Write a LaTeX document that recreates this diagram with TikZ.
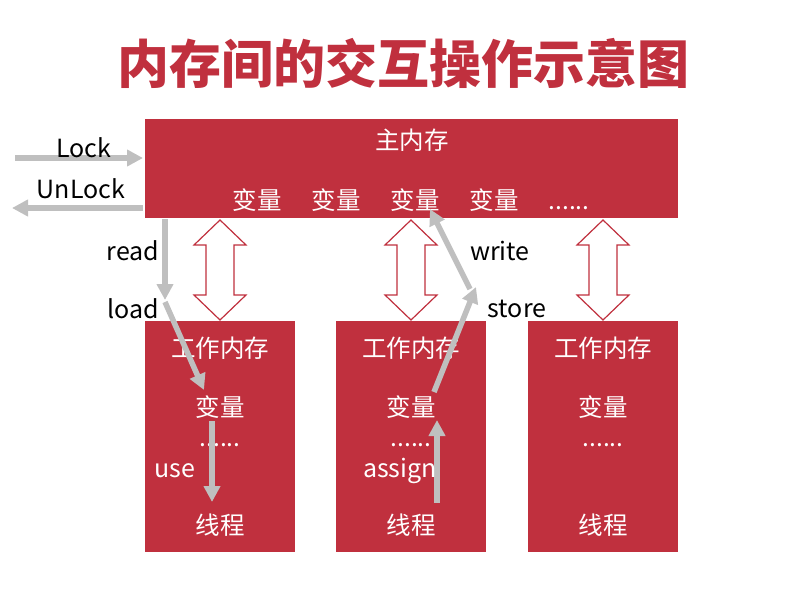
\documentclass[tikz,border=0pt]{standalone}
\usepackage{fontspec}
\setmainfont{Noto Sans CJK SC}
\usetikzlibrary{arrows.meta}
\definecolor{boxred}{RGB}{192,48,62}
\definecolor{flowgray}{RGB}{191,191,191}
\tikzset{
    membox/.style = {fill = boxred, draw = none, inner sep = 0pt},
    memtext/.style = {text = white, font = \fontsize{24.5}{28}\selectfont, inner sep = 0pt},
    dotstext/.style = {text = white, font = \fontsize{24.5}{28}\selectfont, inner sep = 0pt, anchor = base},
    oplabel/.style = {text = black, font = \fontsize{25}{29}\selectfont, inner sep = 0pt},
    flow/.style = {draw = flowgray, line width = 5.5pt, -{Triangle[length = 16pt, width = 16pt]}}
}
\begin{document}
\begin{tikzpicture}[x = 1pt, y = -1pt]
    \useasboundingbox (0,0) rectangle (803,592);
    \node [text = boxred, font = \fontsize{52}{56}\selectfont\bfseries] (title) at (403,63) {内存间的交互操作示意图};

    \node [membox, minimum width = 533pt, minimum height = 99pt] (main) at (411.5,168.5) {};
    \node [memtext] (mainname) at (412,140) {主内存};
    \node [memtext] (v1) at (257,200) {变量};
    \node [memtext] (v2) at (336,200) {变量};
    \node [memtext] (v3) at (415,200) {变量};
    \node [memtext] (v4) at (494,200) {变量};
    \node [dotstext] (vdots) at (569,209) {......};

    \foreach \i/\x in {1/220, 2/411, 3/603}
    {
        \node [membox, minimum width = 150pt, minimum height = 231pt] (w\i) at (\x,436.5) {};
        \node [memtext] (wname\i) at (\x,348) {工作内存};
        \node [memtext] (wvar\i) at (\x,407) {变量};
        \node [dotstext] (wdots\i) at (\x,446) {......};
        \node [memtext] (thread\i) at (\x,525) {线程};
        \draw [boxred, fill = white, line width = 1.2pt]
            (\x,220) -- (\x+26,245) -- (\x+14,245) -- (\x+14,295) -- (\x+26,295) -- (\x,320)
            -- (\x-26,295) -- (\x-14,295) -- (\x-14,245) -- (\x-26,245) -- cycle;
    }

    \coordinate (lockin) at (15,158);
    \coordinate (lockend) at (143,158);
    \coordinate (unlockin) at (143,208);
    \coordinate (unlockend) at (12,208);
    \coordinate (readin) at (165,219);
    \coordinate (readend) at (165,300);
    \coordinate (loadin) at (165,302);
    \coordinate (loadend) at (204,390);
    \coordinate (usein) at (212,421);
    \coordinate (useend) at (212,502);
    \coordinate (assignin) at (437,503);
    \coordinate (assignend) at (437,420);
    \coordinate (storein) at (434,392);
    \coordinate (storeend) at (476,287);
    \coordinate (writein) at (470,289);
    \coordinate (writeend) at (430,209);

    \draw [flow] (lockin) -- (lockend);
    \draw [flow] (unlockin) -- (unlockend);
    \draw [flow] (readin) -- (readend);
    \draw [flow] (loadin) -- (loadend);
    \draw [flow] (usein) -- (useend);
    \draw [flow] (assignin) -- (assignend);
    \draw [flow] (storein) -- (storeend);
    \draw [flow] (writein) -- (writeend);

    \node [oplabel] (lock) at (84,148) {Lock};
    \node [oplabel] (unlock) at (81,189) {UnLock};
    \node [oplabel] (read) at (133,251) {read};
    \node [oplabel] (load) at (133,309) {load};
    \node [oplabel, text = white] (use) at (175,471) {use};
    \node [oplabel, text = white] (assign) at (400,471) {assign};
    \node [oplabel] (store) at (517,309) {store};
    \node [oplabel] (write) at (500,251) {write};
\end{tikzpicture}
\end{document}
